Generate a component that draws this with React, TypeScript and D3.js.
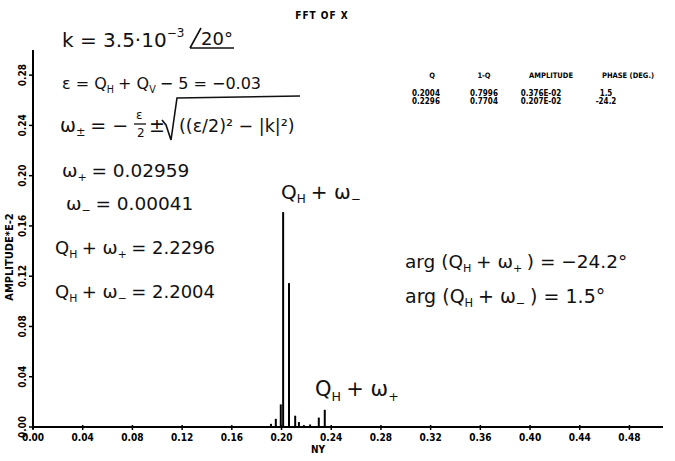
import React from "react";
import * as d3 from "d3";

// ---- data ----
const freqs = [0.1915, 0.1954, 0.1994, 0.2013, 0.2060, 0.2110, 0.2140, 0.2180, 0.2230, 0.2300, 0.2348];
const amps = [0.0025, 0.0065, 0.018, 0.171, 0.1145, 0.009, 0.004, 0.0015, 0.002, 0.0075, 0.0137];

const xTickValues = [0, 0.04, 0.08, 0.12, 0.16, 0.2, 0.24, 0.28, 0.32, 0.36, 0.4, 0.44, 0.48];
const yTickValues = [0, 0.04, 0.08, 0.12, 0.16, 0.2, 0.24, 0.28];

const tableHeaders = ["Q", "1-Q", "AMPLITUDE", "PHASE (DEG.)"];
const tableRows = [
  ["0.2004", "0.7996", "0.376E-02", "1.5"],
  ["0.2296", "0.7704", "0.207E-02", "-24.2"],
];

const title = "FFT OF X";
const xLabel = "NY";
const yLabel = "AMPLITUDE*E-2";

const W = 675;
const H = 461;
const X0 = 33;
const Y0 = 427;

const typeFont = "'DejaVu Sans Condensed','DejaVu Sans',sans-serif";
const handFont = "'DejaVu Sans','Noto Sans',sans-serif";

// a handwritten-looking line: main text parts and subscripts
type Part = { t: string; sub?: boolean; sup?: boolean };

function Hand({ x, y, parts, size = 20 }: { x: number; y: number; parts: Part[]; size?: number }) {
  return (
    <text x={x} y={y} fontFamily={handFont} fontSize={size} fill="#111">
      {parts.map((p, i) => {
        const prev = i > 0 ? parts[i - 1] : null;
        const shift = p.sub ? size * 0.22 : p.sup ? -size * 0.5 : 0;
        const prevShift = prev ? (prev.sub ? size * 0.22 : prev.sup ? -size * 0.5 : 0) : 0;
        const dy = shift - prevShift;
        return (
          <tspan
            key={i}
            dy={dy}
            dx={prev && (prev.sub || prev.sup) ? size * 0.25 : 0}
            fontSize={p.sub || p.sup ? size * 0.6 : size}
          >
            {p.t}
          </tspan>
        );
      })}
    </text>
  );
}

export default function App() {
  const x = d3.scaleLinear().domain([0, 0.507]).range([X0, 663]);
  const y = d3.scaleLinear().domain([0, 0.3]).range([Y0, 50]);
  const fmt = d3.format(".2f");

  const tableX = [432, 484, 551, 628];
  const rowX = [426, 484, 541, 606];

  return (
    <svg
      width={W}
      height={H}
      viewBox={`0 0 ${W} ${H}`}
      style={{ position: "absolute", left: 0, top: 0, background: "#fff" }}
    >
      <rect x={0} y={0} width={W} height={H} fill="#fff" />

      {/* axes */}
      <line x1={x(0)} x2={x(0.507)} y1={Y0} y2={Y0} stroke="#000" strokeWidth={2} />
      <line x1={X0} x2={X0} y1={y(0.3)} y2={Y0 + 2} stroke="#000" strokeWidth={2} />

      {xTickValues.map((t) => (
        <g key={"xt" + t}>
          <line x1={x(t)} x2={x(t)} y1={Y0 - 2} y2={Y0 + 3} stroke="#000" strokeWidth={1.5} />
          <text
            x={x(t)}
            y={441}
            textAnchor="middle"
            fontFamily={typeFont}
            fontWeight="bold"
            fontStretch="condensed"
            fontSize={10}
          >
            {fmt(t)}
          </text>
        </g>
      ))}

      {yTickValues.map((t) => (
        <g key={"yt" + t}>
          <line x1={X0 - 4} x2={X0} y1={y(t)} y2={y(t)} stroke="#000" strokeWidth={1.5} />
          <text
            transform={`translate(26,${y(t)}) rotate(-90)`}
            textAnchor="middle"
            fontFamily={typeFont}
            fontWeight="bold"
            fontStretch="condensed"
            fontSize={10}
          >
            {fmt(t)}
          </text>
        </g>
      ))}

      <text
        transform={`translate(13,257) rotate(-90)`}
        textAnchor="middle"
        fontFamily={typeFont}
        fontWeight="bold"
        fontStretch="condensed"
        fontSize={11}
      >
        {yLabel}
      </text>
      <text
        x={318}
        y={453}
        textAnchor="middle"
        fontFamily={typeFont}
        fontWeight="bold"
        fontStretch="condensed"
        fontSize={10}
      >
        {xLabel}
      </text>

      {/* title */}
      <text
        x={322}
        y={19}
        textAnchor="middle"
        fontFamily={typeFont}
        fontWeight="bold"
        fontStretch="condensed"
        fontSize={10}
        letterSpacing={1}
      >
        {title}
      </text>

      {/* table */}
      {tableHeaders.map((h, i) => (
        <text
          key={"th" + i}
          x={tableX[i]}
          y={78}
          textAnchor="middle"
          fontFamily={typeFont}
          fontWeight="bold"
          fontStretch="condensed"
          fontSize={7.5}
        >
          {h}
        </text>
      ))}
      {tableRows.map((row, r) =>
        row.map((c, i) => (
          <text
            key={"td" + r + i}
            x={rowX[i]}
            y={96 + r * 8}
            textAnchor="middle"
            fontFamily={typeFont}
            fontWeight="bold"
            fontStretch="condensed"
            fontSize={8}
          >
            {c}
          </text>
        ))
      )}

      {/* spectrum lines */}
      {freqs.map((f, i) => (
        <line
          key={"b" + i}
          x1={x(f)}
          x2={x(f)}
          y1={y(0)}
          y2={y(amps[i])}
          stroke="#000"
          strokeWidth={2}
        />
      ))}

      {/* handwritten annotations */}
      <Hand x={62} y={47} parts={[{ t: "k = 3.5·10" }, { t: "−3", sup: true }]} />
      <text x={201} y={45} fontFamily={handFont} fontSize={18} fill="#111">20°</text>
      <path d="M190,48 L234,48 M190,48 L201,28" stroke="#111" strokeWidth={1.6} fill="none" />

      <Hand
        x={62}
        y={89}
        size={16}
        parts={[{ t: "ε = Q" }, { t: "H", sub: true }, { t: "+ Q" }, { t: "V", sub: true }, { t: "− 5 = −0.03" }]}
      />

      <Hand x={60} y={132} size={19} parts={[{ t: "ω" }, { t: "±", sub: true }, { t: "= −" }]} />
      <text x={136} y={119} fontFamily={handFont} fontSize={12} fill="#111">ε</text>
      <line x1={134} x2={146} y1={124} y2={124} stroke="#111" strokeWidth={1.3} />
      <text x={137} y={137} fontFamily={handFont} fontSize={12} fill="#111">2</text>
      <text x={149} y={132} fontFamily={handFont} fontSize={19} fill="#111">±</text>
      <path d="M162,120 L166,125 L171,140 L177,98 L300,96" stroke="#111" strokeWidth={1.6} fill="none" />
      <text x={179} y={132} fontFamily={handFont} fontSize={17.5} fill="#111">((ε/2)² − |k|²)</text>

      <Hand x={62} y={177} size={18.5} parts={[{ t: "ω" }, { t: "+", sub: true }, { t: "= 0.02959" }]} />
      <Hand x={66} y={210} size={18.5} parts={[{ t: "ω" }, { t: "−", sub: true }, { t: "= 0.00041" }]} />

      <Hand
        x={55}
        y={254}
        size={18}
        parts={[{ t: "Q" }, { t: "H", sub: true }, { t: "+ ω" }, { t: "+", sub: true }, { t: "= 2.2296" }]}
      />
      <Hand
        x={55}
        y={298}
        size={18}
        parts={[{ t: "Q" }, { t: "H", sub: true }, { t: "+ ω" }, { t: "−", sub: true }, { t: "= 2.2004" }]}
      />

      <Hand x={281} y={199} parts={[{ t: "Q" }, { t: "H", sub: true }, { t: "+ ω" }, { t: "−", sub: true }]} />

      <Hand
        x={405}
        y={268}
        size={18.5}
        parts={[{ t: "arg (Q" }, { t: "H", sub: true }, { t: "+ ω" }, { t: "+", sub: true }, { t: ") = −24.2°" }]}
      />
      <Hand
        x={405}
        y={303}
        size={19}
        parts={[{ t: "arg (Q" }, { t: "H", sub: true }, { t: "+ ω" }, { t: "−", sub: true }, { t: ") = 1.5°" }]}
      />

      <Hand x={315} y={396} size={21} parts={[{ t: "Q" }, { t: "H", sub: true }, { t: "+ ω" }, { t: "+", sub: true }]} />
    </svg>
  );
}
